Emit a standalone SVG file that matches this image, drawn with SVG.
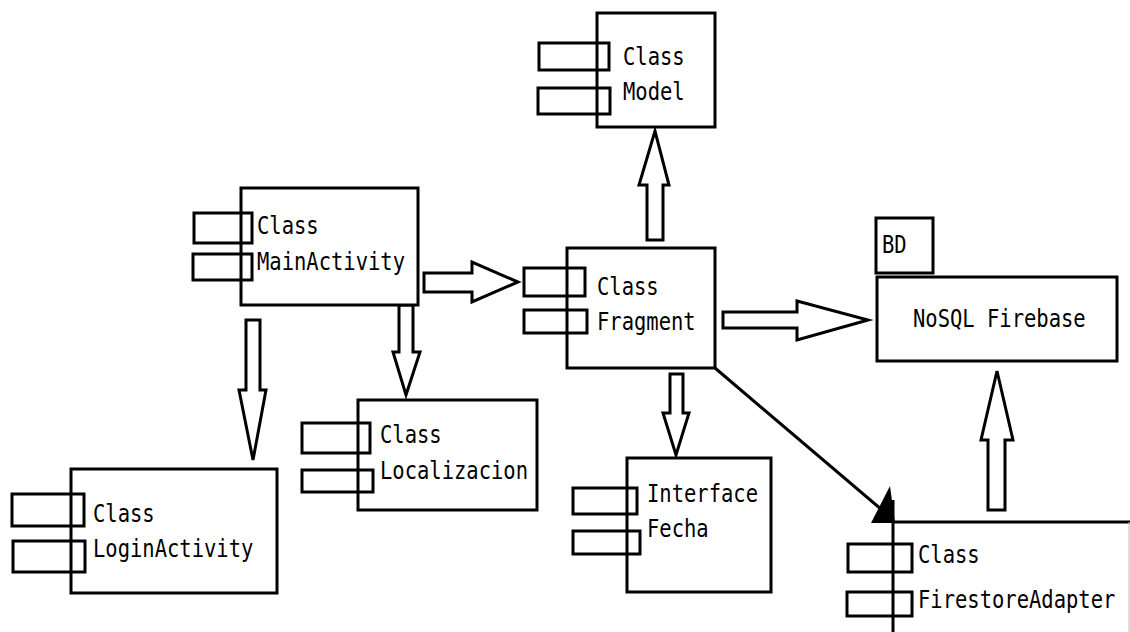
<svg xmlns="http://www.w3.org/2000/svg" width="1130" height="632" viewBox="0 0 1130 632">
<style>
.box{fill:#fff;stroke:#000;stroke-width:3}
.port{fill:none;stroke:#000;stroke-width:3}
.arr{fill:#fff;stroke:#000;stroke-width:3;stroke-linejoin:miter}
.line{fill:none;stroke:#000;stroke-width:3}
text{font-family:"DejaVu Sans Mono","Liberation Mono",monospace;font-size:20.5px;fill:#000}
</style>
<rect width="1130" height="632" fill="#fff"/>
<g id="connectors">
  <polygon class="arr" points="424,273 472,273 472,262 518,282 472,302 472,292 424,292"/>
  <polygon class="arr" points="399,305 413,305 413,352 420,352 406,395 393,352 399,352"/>
  <polygon class="arr" points="246,320 260,320 260,390 266,390 253,460 239,390 246,390"/>
  <polygon class="arr" points="647,240 663,240 663,185 669,185 655,131 639,185 647,185"/>
  <polygon class="arr" points="723,312 797,312 797,301 868,320 797,340 797,328 723,328"/>
  <polygon class="arr" points="670,374 683,374 683,413 689,413 676,455 663,413 670,413"/>
  <polygon class="arr" points="988,510 1005,510 1005,440 1013,440 997,371 981,440 988,440"/>
  <line class="line" x1="715" y1="368" x2="882" y2="510"/>
  <polygon points="890,486 871,523 895,523" fill="#000"/>
</g>
<g id="model">
  <rect class="box" x="597" y="13" width="118" height="114"/>
  <rect class="port" x="539" y="43" width="70" height="27"/>
  <rect class="port" x="538" y="88" width="72" height="26"/>
  <text transform="translate(623,65) scale(1,1.17)">Class</text>
  <text transform="translate(623,100) scale(1,1.17)">Model</text>
</g>
<g id="mainactivity">
  <rect class="box" x="241" y="188" width="177" height="117"/>
  <rect class="port" x="194" y="213" width="58" height="30"/>
  <rect class="port" x="193" y="254" width="59" height="26"/>
  <text transform="translate(257,234) scale(1,1.17)">Class</text>
  <text transform="translate(257,270) scale(1,1.17)">MainActivity</text>
</g>
<g id="fragment">
  <rect class="box" x="567" y="248" width="148" height="120"/>
  <rect class="port" x="524" y="268" width="61" height="28"/>
  <rect class="port" x="524" y="310" width="63" height="23"/>
  <text transform="translate(597,295) scale(1,1.17)">Class</text>
  <text transform="translate(597,330) scale(1,1.17)">Fragment</text>
</g>
<g id="nosql">
  <rect class="box" x="876" y="218" width="57" height="55"/>
  <text transform="translate(882,253) scale(1,1.17)">BD</text>
  <rect class="box" x="877" y="277" width="240" height="84"/>
  <text transform="translate(913,327) scale(1,1.17)">NoSQL Firebase</text>
</g>
<g id="localizacion">
  <rect class="box" x="358" y="400" width="179" height="110"/>
  <rect class="port" x="302" y="423" width="68" height="30"/>
  <rect class="port" x="302" y="470" width="71" height="22"/>
  <text transform="translate(380,443) scale(1,1.17)">Class</text>
  <text transform="translate(380,479) scale(1,1.17)">Localizacion</text>
</g>
<g id="loginactivity">
  <rect class="box" x="71" y="469" width="206" height="124"/>
  <rect class="port" x="12" y="494" width="72" height="32"/>
  <rect class="port" x="13" y="541" width="72" height="31"/>
  <text transform="translate(93,522) scale(1,1.17)">Class</text>
  <text transform="translate(93,557) scale(1,1.17)">LoginActivity</text>
</g>
<g id="fecha">
  <rect class="box" x="627" y="458" width="144" height="134"/>
  <rect class="port" x="573" y="488" width="64" height="26"/>
  <rect class="port" x="573" y="531" width="67" height="23"/>
  <text transform="translate(647,502) scale(1,1.17)">Interface</text>
  <text transform="translate(647,537) scale(1,1.17)">Fecha</text>
</g>
<g id="firestoreadapter">
  <line class="line" x1="893" y1="522" x2="1130" y2="522"/>
  <line class="line" x1="893" y1="500" x2="893" y2="632"/>
  <line x1="1129" y1="522" x2="1129" y2="632" stroke="#bbb" stroke-width="1"/>
  <rect class="port" x="848" y="544" width="64" height="28"/>
  <rect class="port" x="847" y="592" width="65" height="24"/>
  <text transform="translate(918,563) scale(1,1.17)">Class</text>
  <text transform="translate(918,608) scale(1,1.17)">FirestoreAdapter</text>
</g>
</svg>
